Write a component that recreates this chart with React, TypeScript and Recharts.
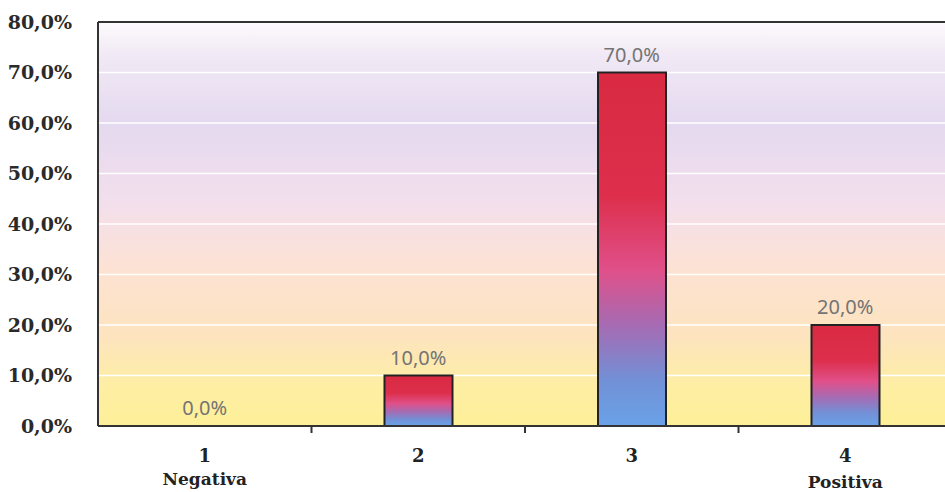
import { ComposedChart, Bar, Line, XAxis, YAxis, CartesianGrid, LabelList, ReferenceLine } from 'recharts';

const categories = ['1', '2', '3', '4'];
const subLabels = ['Negativa', '', '', 'Positiva'];
const values = [0, 0.1, 0.7, 0.2];
const yTicks = [0, 0.1, 0.2, 0.3, 0.4, 0.5, 0.6, 0.7, 0.8];

const data = categories.map((c, i) => ({ name: c, sub: subLabels[i], value: values[i] }));

const pct = (v: number) => `${(v * 100).toFixed(1).replace('.', ',')}%`;

// category label plus the small tick marks between categories
function CategoryTick(props: any) {
  const { x, y, payload, index, width } = props;
  const sub = subLabels[index];
  const band = width / categories.length;
  return (
    <g transform={`translate(${x},${y})`}>
      {index < categories.length - 1 && (
        <line x1={band / 2} x2={band / 2} y1={-8} y2={-1} stroke="#333" strokeWidth={2} />
      )}
      <text textAnchor="middle" y={28} fontFamily="DejaVu Serif" fontWeight="bold" fontSize={18} fill="#222">
        {payload.value}
      </text>
      {sub && (
        <text textAnchor="middle" y={index === 3 ? 54 : 51} fontFamily="DejaVu Serif" fontWeight="bold" fontSize={17} fill="#222">
          {sub}
        </text>
      )}
    </g>
  );
}

export default function App() {
  return (
    <div style={{ position: 'absolute', left: 0, top: 0, width: 945, height: 492, overflow: 'hidden', background: '#fff' }}>
      <ComposedChart width={960} height={492} data={data} margin={{ top: 22, right: 8, left: 0, bottom: 6 }} barCategoryGap={0}>
        <defs>
          <linearGradient id="plotBg" x1="0" y1="0" x2="0" y2="1">
            <stop offset="0" stopColor="#fdfbfd" />
            <stop offset="0.08" stopColor="#f1e9f5" />
            <stop offset="0.25" stopColor="#e4d9ef" />
            <stop offset="0.45" stopColor="#f3dfec" />
            <stop offset="0.62" stopColor="#fde2d2" />
            <stop offset="0.78" stopColor="#fde4be" />
            <stop offset="0.9" stopColor="#fdeea4" />
            <stop offset="1" stopColor="#fdf098" />
          </linearGradient>
          <linearGradient id="barFill" x1="0" y1="0" x2="0" y2="1">
            <stop offset="0" stopColor="#d92a42" />
            <stop offset="0.35" stopColor="#dd2f4c" />
            <stop offset="0.56" stopColor="#e0508a" />
            <stop offset="0.72" stopColor="#a46cb4" />
            <stop offset="0.87" stopColor="#7290d6" />
            <stop offset="1" stopColor="#6aa2e8" />
          </linearGradient>
        </defs>
        <CartesianGrid vertical={false} stroke="#ffffff" strokeWidth={1.5} fill="url(#plotBg)" fillOpacity={1} />
        <XAxis
          dataKey="name"
          height={60}
          tickLine={false}
          axisLine={{ stroke: '#333', strokeWidth: 2 }}
          tick={<CategoryTick />}
          interval={0}
        />
        <YAxis
          width={98}
          domain={[0, 0.8]}
          ticks={yTicks}
          tickFormatter={pct}
          tickLine={false}
          tickMargin={20}
          axisLine={{ stroke: '#333', strokeWidth: 2 }}
          tick={{ fontFamily: 'DejaVu Serif', fontWeight: 'bold', fontSize: 19, fill: '#2a2a2a' }}
        />
        <ReferenceLine y={0.8} stroke="#333" strokeWidth={2} />
        <Bar dataKey="value" barSize={68} fill="url(#barFill)" stroke="#222" strokeWidth={2} isAnimationActive={false} />
        <Line dataKey="value" stroke="none" dot={false} activeDot={false} isAnimationActive={false}>
          <LabelList
            dataKey="value"
            position="top"
            offset={11}
            formatter={(v: any) => pct(Number(v))}
            style={{ fontFamily: 'Noto Sans', fontSize: 20, fill: '#747474' }}
          />
        </Line>
      </ComposedChart>
    </div>
  );
}
